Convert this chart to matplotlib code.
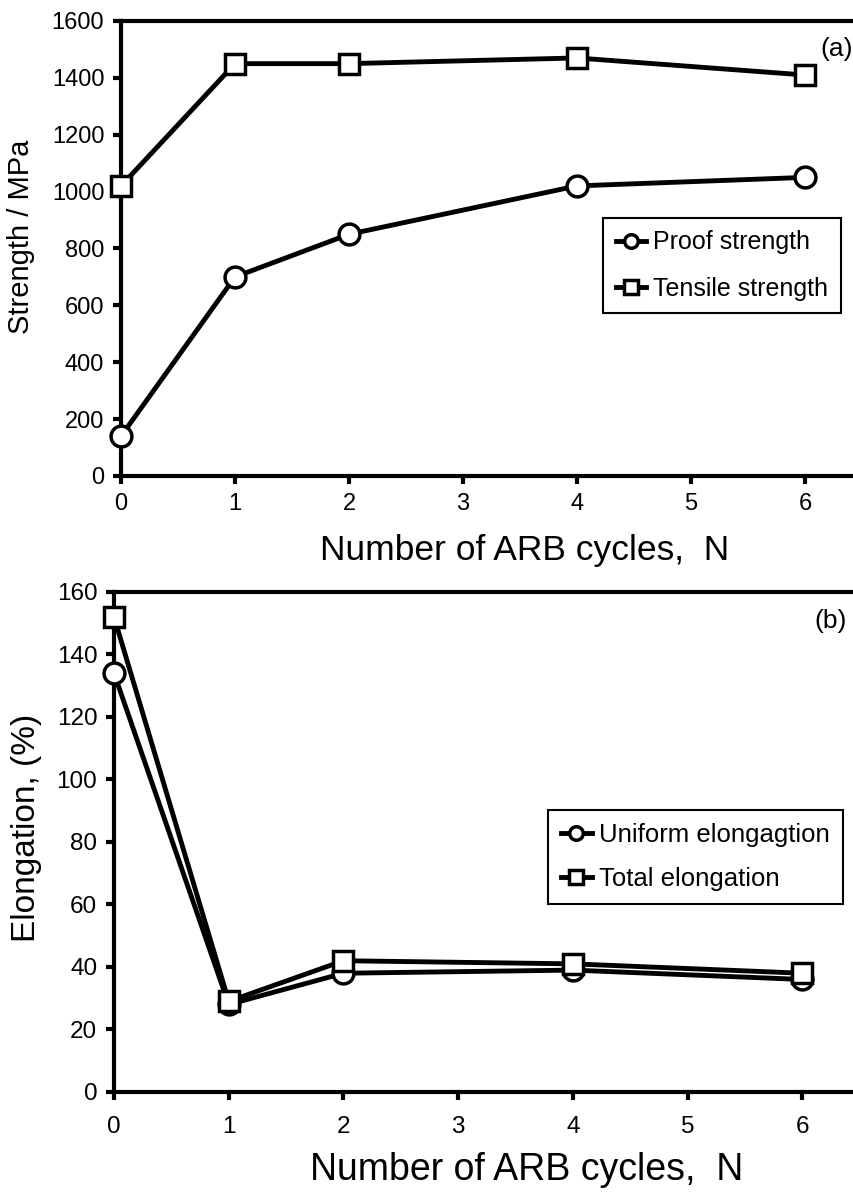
import matplotlib.pyplot as plt

plt.rcParams['font.family'] = ['Liberation Sans', 'DejaVu Sans']

# ARB cycles and measured properties
cycles = [0, 1, 2, 4, 6]
proof_strength = [140, 700, 850, 1020, 1050]
tensile_strength = [1020, 1450, 1450, 1470, 1410]
uniform_elong = [134, 28, 38, 39, 36]
total_elong = [152, 29, 42, 41, 38]

fig = plt.figure(figsize=(8.54, 11.92), dpi=100)
ax1 = fig.add_axes([0.1417, 0.6007, 0.8583, 0.3817])
ax2 = fig.add_axes([0.1335, 0.0839, 0.8665, 0.4195])

line_kw = dict(color='black', lw=3.5, markersize=15, markeredgewidth=2.5,
               markerfacecolor='white', markeredgecolor='black', clip_on=False)
leg_kw = dict(loc='upper left', handlelength=1.2, handletextpad=0.3, markerscale=0.65,
              fancybox=False, edgecolor='black', framealpha=1,
              borderpad=0.5, borderaxespad=0)


def style_axis(ax, ymax, ystep, xmax, tick_fs, xpad):
    ax.set_xlim(0, xmax)
    ax.set_ylim(0, ymax)
    ax.set_xticks(range(0, 7))
    ax.set_yticks(range(0, ymax + 1, ystep))
    ax.spines['right'].set_visible(False)
    for s in ['top', 'left', 'bottom']:
        ax.spines[s].set_linewidth(3)
    ax.tick_params(direction='out', length=6, width=3, labelsize=tick_fs, pad=6)
    ax.tick_params(axis='x', pad=xpad)


# (a) strength
ax1.plot(cycles, proof_strength, marker='o', label='Proof strength', zorder=3, **line_kw)
ax1.plot(cycles, tensile_strength, marker='s', label='Tensile strength', zorder=3, **line_kw)
style_axis(ax1, 1600, 200, 6.43, 17, 6)
ax1.set_xlabel('Number of ARB cycles,  N', fontsize=25.5)
ax1.xaxis.set_label_coords(0.551, -0.128)
ax1.set_ylabel('Strength / MPa', fontsize=21)
ax1.yaxis.set_label_coords(-0.117, 0.525)
ax1.text(0.999, 0.965, '(a)', transform=ax1.transAxes, fontsize=19, ha='right', va='top')
leg1 = ax1.legend(bbox_to_anchor=(0.6576, 0.567), fontsize=18, labelspacing=0.9, **leg_kw)
leg1.get_frame().set_linewidth(1.5)

# (b) elongation
ax2.plot(cycles, uniform_elong, marker='o', label='Uniform elongagtion', zorder=3, **line_kw)
ax2.plot(cycles, total_elong, marker='s', label='Total elongation', zorder=3, **line_kw)
style_axis(ax2, 160, 20, 6.45, 17.5, 11)
ax2.set_xlabel('Number of ARB cycles,  N', fontsize=27)
ax2.xaxis.set_label_coords(0.557, -0.12)
ax2.set_ylabel('Elongation, (%)', fontsize=24)
ax2.yaxis.set_label_coords(-0.097, 0.528)
ax2.text(0.99, 0.965, '(b)', transform=ax2.transAxes, fontsize=19, ha='right', va='top')
leg2 = ax2.legend(bbox_to_anchor=(0.5865, 0.564), fontsize=18.5, labelspacing=0.8, **leg_kw)
leg2.get_frame().set_linewidth(1.5)

fig.savefig('out.png', dpi=100)
